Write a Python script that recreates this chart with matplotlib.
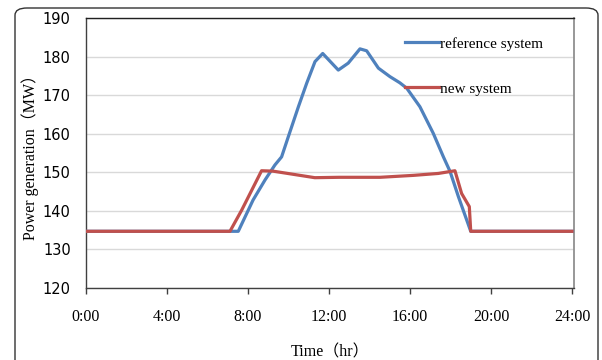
import matplotlib
matplotlib.use("Agg")
import matplotlib.pyplot as plt
from matplotlib.patches import FancyBboxPatch
from matplotlib.lines import Line2D

# ---- data ----
ref_hours = [0, 7.52, 8.25, 8.84, 9.33, 9.66, 9.99, 10.49, 10.9, 11.31, 11.69,
             12.46, 12.95, 13.53, 13.86, 14.44, 15.01, 15.5, 15.84, 16.49,
             17.15, 17.65, 17.98, 18.39, 19.0, 24]
ref_power = [134.7, 134.7, 142.8, 148.0, 151.9, 154.0, 159.2, 167.0, 173.1, 178.7,
             180.8, 176.5, 178.3, 182.0, 181.5, 177.0, 174.8, 173.2, 171.8, 167.0,
             160.1, 154.0, 150.2, 143.7, 134.7, 134.7]

new_hours = [0, 7.11, 7.69, 8.67, 9.23, 11.3, 12.5, 14.52, 16.17, 17.4, 18.22,
             18.55, 18.93, 19.0, 24]
new_power = [134.7, 134.7, 140.2, 150.4, 150.3, 148.6, 148.7, 148.7, 149.2, 149.7,
             150.4, 144.5, 141.1, 134.7, 134.7]

x_ticks = [0, 4, 8, 12, 16, 20, 24]
x_tick_labels = ["0:00", "4:00", "8:00", "12:00", "16:00", "20:00", "24:00"]
y_ticks = [120, 130, 140, 150, 160, 170, 180, 190]

series_labels = ["reference system", "new system"]
blue = "#4f81bd"
red = "#c0504d"

serif = ["Liberation Serif", "Noto Sans CJK SC"]

fig = plt.figure(figsize=(6.02, 3.6), dpi=100)
W, H = 602, 360
ax = fig.add_axes([86 / W, 1 - 288 / H, (574 - 86) / W, (288 - 18) / H])

ax.plot(ref_hours, ref_power, color=blue, lw=2.3, solid_joinstyle="round", zorder=3)
ax.plot(new_hours, new_power, color=red, lw=2.3, solid_joinstyle="round", zorder=4)

ax.set_xlim(0, 24.1)
ax.set_ylim(120, 190)
ax.set_xticks(x_ticks)
ax.set_xticklabels(x_tick_labels, fontfamily="Liberation Serif", fontsize=11.5)
ax.set_yticks(y_ticks)
ax.set_yticklabels([str(v) for v in y_ticks], fontfamily="DejaVu Sans", fontsize=10.5)
ax.tick_params(axis="x", direction="out", length=4, width=1, color="#404040", pad=11)
ax.tick_params(axis="y", length=0, pad=11)
ax.yaxis.grid(True, color="#d9d9d9", lw=1)
ax.set_axisbelow(True)

for s in ["left", "bottom"]:
    ax.spines[s].set_color("#404040")
    ax.spines[s].set_linewidth(1)
ax.spines["top"].set_color("#202020")
ax.spines["top"].set_linewidth(1)
ax.spines["right"].set_color("#909090")
ax.spines["right"].set_linewidth(1.3)

ax.set_ylabel("Power generation（MW）", family=serif, fontsize=11.5, labelpad=3)
ax.set_xlabel("Time（hr）", family=serif, fontsize=11.5, labelpad=14)

handles = [Line2D([], [], color=blue, lw=2.3), Line2D([], [], color=red, lw=2.3)]
leg = ax.legend(handles, series_labels, loc="upper left",
                bbox_to_anchor=((405 - 86) / (574 - 86), 1 - (37 - 18) / 270),
                frameon=False, handlelength=2.2, handletextpad=0.1,
                labelspacing=2.05, borderaxespad=0, borderpad=0,
                prop={"family": "Liberation Serif", "size": 11})

border = FancyBboxPatch((15 / W, -0.05), (598 - 15) / W, (360 - 8) / H + 0.05,
                        boxstyle="round,pad=0,rounding_size=0.02",
                        transform=fig.transFigure, fill=False,
                        edgecolor="#333333", lw=1.0)
fig.patches.append(border)

fig.savefig("out.png", dpi=100)
